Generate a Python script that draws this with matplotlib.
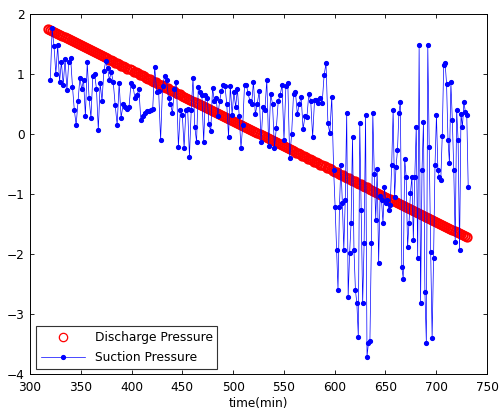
import numpy as np
import matplotlib
matplotlib.use('Agg')
import matplotlib.pyplot as plt

plt.rcParams['font.family'] = ['DejaVu Sans']

# Discharge pressure: sampled every 2 min from 318 to 730
discharge_time = np.arange(318, 731, 2)
discharge = [
    1.75, 1.73, 1.72, 1.70, 1.68, 1.67, 1.65, 1.63, 1.62, 1.60,
    1.58, 1.56, 1.55, 1.53, 1.51, 1.50, 1.48, 1.46, 1.45, 1.43,
    1.41, 1.40, 1.38, 1.36, 1.35, 1.33, 1.31, 1.30, 1.28, 1.26,
    1.24, 1.23, 1.21, 1.19, 1.18, 1.16, 1.14, 1.13, 1.11, 1.09,
    1.08, 1.06, 1.04, 1.03, 1.01, 0.99, 0.98, 0.96, 0.94, 0.92,
    0.91, 0.89, 0.87, 0.86, 0.84, 0.82, 0.81, 0.79, 0.77, 0.76,
    0.74, 0.72, 0.71, 0.69, 0.67, 0.66, 0.64, 0.62, 0.60, 0.59,
    0.57, 0.55, 0.54, 0.52, 0.50, 0.49, 0.47, 0.45, 0.44, 0.42,
    0.40, 0.39, 0.37, 0.35, 0.34, 0.32, 0.30, 0.28, 0.27, 0.25,
    0.23, 0.22, 0.20, 0.18, 0.17, 0.15, 0.13, 0.12, 0.10, 0.08,
    0.07, 0.05, 0.03, 0.02, 0.00, -0.02, -0.04, -0.05, -0.07, -0.09,
    -0.10, -0.12, -0.14, -0.15, -0.17, -0.19, -0.20, -0.22, -0.24, -0.25,
    -0.27, -0.29, -0.31, -0.32, -0.34, -0.36, -0.37, -0.39, -0.41, -0.42,
    -0.44, -0.46, -0.47, -0.49, -0.51, -0.52, -0.54, -0.56, -0.57, -0.59,
    -0.61, -0.63, -0.64, -0.66, -0.68, -0.69, -0.71, -0.73, -0.74, -0.76,
    -0.78, -0.79, -0.81, -0.83, -0.84, -0.86, -0.88, -0.89, -0.91, -0.93,
    -0.95, -0.96, -0.98, -1.00, -1.01, -1.03, -1.05, -1.06, -1.08, -1.10,
    -1.11, -1.13, -1.15, -1.16, -1.18, -1.20, -1.21, -1.23, -1.25, -1.27,
    -1.28, -1.30, -1.32, -1.33, -1.35, -1.37, -1.38, -1.40, -1.42, -1.43,
    -1.45, -1.47, -1.48, -1.50, -1.52, -1.53, -1.55, -1.57, -1.59, -1.60,
    -1.62, -1.64, -1.65, -1.67, -1.69, -1.70, -1.72,
]

suction_a = [0.9, 1.76, 1.46, 1.0, 1.48, 0.87, 1.2, 0.82, 1.25, 0.73, 1.2,
             1.27, 0.79, 0.4, 0.15, 0.55, 0.93, 0.75, 0.9, 0.3, 1.2, 0.6,
             0.27, 0.96, 1.0, 0.75, 0.07, 0.85, 0.55, 1.05, 1.21, 1.1, 0.9]
suction_b = [1.04, 0.87, 0.48, 0.15, 0.85, 0.27, 0.5, 0.45, 0.42, 0.45, 0.85,
             0.8, 0.6, 0.65, 0.75, 0.23, 0.3, 0.35, 0.38, 0.38, 0.4, 0.42,
             1.12, 0.7, 0.72, -0.1, 0.8, 0.96, 0.9, 0.6, 0.5, 0.35, 0.75,
             0.87, -0.21, 0.4]
suction_c = [0.32, -0.23, 0.4, 0.42, -0.38, 0.4, 0.93, 0.12, -0.13, 0.79, 0.7,
             0.65, -0.13, 0.65, 0.6, 0.16, 0.05, 0.77, 0.55, 0.6, 0.3, 0.55,
             0.72, 0.82, 0.8, 0.5, -0.05, 0.8, 0.32, 0.7, 0.45, 0.75, 0.3,
             -0.23, 0.15, 0.82, 0.82, 0.68, 0.55, 0.5]
suction_d = [0.87, 0.33, 0.5, 0.71, -0.13, 0.45, 0.4, 0.9, -0.2, 0.67, 0.5,
             -0.23, 0.1, 0.55, 0.65, 0.82, -0.1, 0.8, 0.85, -0.4, 0.0, 0.67,
             0.7, 0.33, 0.5, 0.62, 0.08, 0.3, 0.28, 0.67, 0.55, -0.05, 0.57,
             0.57, 0.52, 0.6, 0.52, 0.98, 1.18, 0.18, 0.01, 0.62]
suction_e = [-0.6, -1.21, -1.93, -2.6, -1.21, -0.52, -1.15, -1.93, -1.1, 0.35,
             -2.71, -1.99, -1.49, -0.05, -1.93, -2.6, -2.82, -3.38, 0.18,
             -1.27, -2.82, -1.82, 0.32, -3.71, -3.48, -3.45, -1.82, 0.35,
             -0.66, -1.43, -0.58, -2.15, -1.04, -1.1, -1.48, -0.88, -1.15,
             -1.1, -1.27, -1.18, -0.52, 0.4]
suction_f = [-1.05, -0.55, -0.27, 0.35, 0.54, -2.22, -2.41, -0.41, -0.71,
             -1.88, -1.48, -0.98, -0.71, -1.77, -0.71, 0.12, -2.07, 1.48,
             -2.82, -0.6, 0.2, -2.63, -3.48, 1.48, -0.21, -1.96, -3.4, -2.07,
             -0.52, 0.32, -0.6, -0.71, -0.77, -0.04, 1.15, 1.18, 0.84, -0.1,
             -0.49, 0.86, 0.23, -0.6, -1.8, 0.4, -0.1, -1.94, 0.34, 0.12,
             0.54, 0.37, 0.32, -0.88]
suction_pieces = [(320, 380, suction_a), (380, 450, suction_b),
                  (450, 520, suction_c), (520, 599, suction_d),
                  (599, 659, suction_e), (659, 731.5, suction_f)]

suction_time = []
suction = []
for i, (t0, t1, vals) in enumerate(suction_pieces):
    last = i == len(suction_pieces) - 1
    suction_time.extend(np.linspace(t0, t1, len(vals), endpoint=last))
    suction.extend(vals)

fig = plt.figure(figsize=(5.02, 4.12), dpi=100)
ax = fig.add_axes([30 / 502, 1 - 374 / 412, 457 / 502, 360 / 412])

ax.plot(discharge_time, discharge, 'o', color='red', markerfacecolor='none',
        markersize=6, markeredgewidth=1.4, label='Discharge Pressure')
ax.plot(suction_time, suction, '.-', color='blue', linewidth=0.5,
        markersize=5.5, label='Suction Pressure')

ax.set_xlim(300, 750)
ax.set_ylim(-4, 2)
ax.set_xticks(range(300, 751, 50))
ax.set_yticks(range(-4, 3))
ax.tick_params(direction='in', top=True, right=True, length=3, width=0.6,
               labelsize=8.7)
ax.tick_params(axis='x', pad=5)
ax.tick_params(axis='y', pad=4)
for s in ax.spines.values():
    s.set_linewidth(0.7)
ax.set_xlabel('time(min)', fontsize=8.7, labelpad=2)

leg = ax.legend(loc='lower left', bbox_to_anchor=(0.013, 0.014),
                borderaxespad=0, fontsize=8.8, fancybox=False, framealpha=1,
                handlelength=3.6, labelspacing=0.55, borderpad=0.4)
leg.get_frame().set_edgecolor('#333333')
leg.get_frame().set_linewidth(0.8)
leg.legend_handles[0].set_markeredgewidth(0.9)

fig.savefig('out.png', dpi=100)
